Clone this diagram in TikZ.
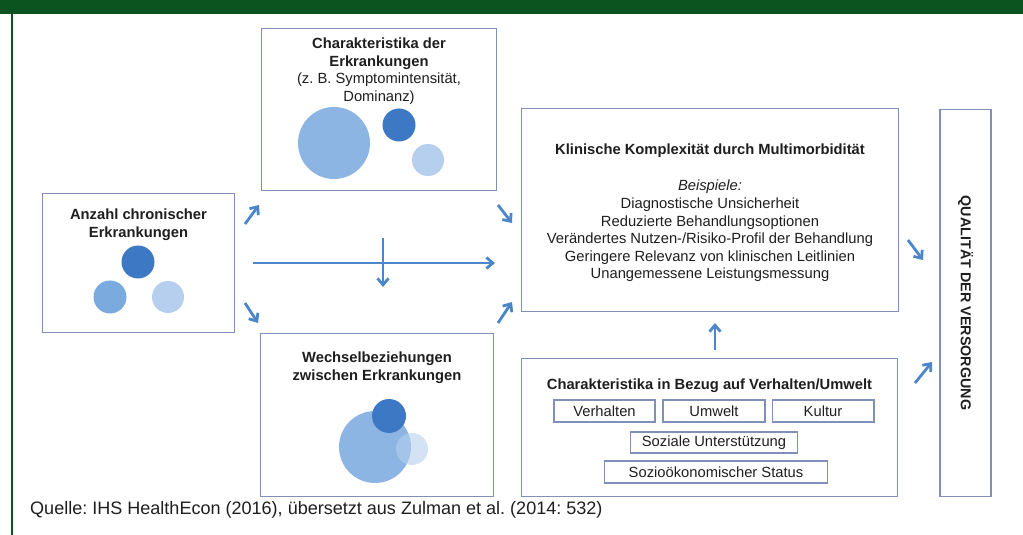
\documentclass[tikz,border=0pt]{standalone}
\usepackage{fontspec}
\setmainfont{Liberation Sans}
\usetikzlibrary{arrows.meta}
\usetikzlibrary{positioning}
\frenchspacing
\definecolor{bandgreen}{RGB}{11,84,32}
\definecolor{boxline}{RGB}{128,144,184}
\definecolor{arrowblue}{RGB}{74,134,200}
\definecolor{darkdot}{RGB}{61,120,196}
\definecolor{middot}{RGB}{122,170,222}
\definecolor{lightdot}{RGB}{182,207,238}
\definecolor{bigdot}{RGB}{140,181,228}
\definecolor{inktext}{RGB}{30,30,30}
\tikzset{box/.style = {draw = boxline, line width = 1.4, inner sep = 0},
  txt/.style = {align = center, text = inktext, font = \fontsize{14.8}{17.6}\selectfont, inner sep = 0},
  arr/.style = {draw = arrowblue, line width = 2.8, -{Straight Barb[length = 6.5, width = 11]}}}

\begin{document}
\begin{tikzpicture}[x=1bp, y=-1bp]
  \useasboundingbox (0, 0) rectangle (1023, 535);
  \fill [bandgreen] (0, 0) rectangle (1023, 14);
  \fill [bandgreen] (11, 14) rectangle (13, 535);

  \node [box, minimum width = 193, minimum height = 140] (anzahl) at (138.5, 263) {};
  \node [box, minimum width = 236, minimum height = 163] (merkmal) at (379, 109.5) {};
  \node [box, minimum width = 234, minimum height = 164] (wechsel) at (377, 415) {};
  \node [box, minimum width = 378, minimum height = 204] (klinik) at (710, 210) {};
  \node [box, minimum width = 377, minimum height = 139] (umfeld) at (709.5, 427.5) {};
  \node [box, minimum width = 51, minimum height = 388] (qualitaet) at (965.5, 303) {};

  \node [txt] (anzahltext) at (138.5, 224.5) {\bfseries Anzahl chronischer\\\bfseries Erkrankungen};
  \node [txt] (merkmaltext) at (379, 71) {\bfseries Charakteristika der\\\bfseries Erkrankungen\\(z. B. Symptomintensität,\\Dominanz)};
  \node [txt] (wechseltext) at (377, 367.5) {\bfseries Wechselbeziehungen\\\bfseries zwischen Erkrankungen};
  \node [txt, font = \fontsize{14.8}{17.6}\selectfont\bfseries] (klinikkopf) at (710, 151) {Klinische Komplexität durch Multimorbidität};
  \node [txt] (klinikliste) at (710, 231) {\itshape Beispiele:\\Diagnostische Unsicherheit\\Reduzierte Behandlungsoptionen\\Verändertes Nutzen-/Risiko-Profil der Behandlung\\Geringere Relevanz von klinischen Leitlinien\\Unangemessene Leistungsmessung};
  \node [txt, font = \fontsize{14.8}{17.6}\selectfont\bfseries] (umfeldkopf) at (709.5, 386) {Charakteristika in Bezug auf Verhalten/Umwelt};
  \node [txt, font = \fontsize{14.4}{17.6}\selectfont\bfseries, rotate = -90] (qualitaettext) at (965.5, 303) {QUALITÄT DER VERSORGUNG};

  \node [box, txt, minimum width = 101, minimum height = 22] (verhalten) at (604.5, 411) {Verhalten};
  \node [box, txt, minimum width = 102, minimum height = 22] (umwelt) at (714, 411) {Umwelt};
  \node [box, txt, minimum width = 102, minimum height = 22] (kultur) at (823, 411) {Kultur};
  \node [box, txt, minimum width = 168, minimum height = 21] (sozial) at (714, 442.5) {Soziale Unterstützung};
  \node [box, txt, minimum width = 224, minimum height = 22] (status) at (716, 472) {Sozioökonomischer Status};

  \node [anchor = west, inner sep = 0, text = inktext, font = \fontsize{18.1}{20}\selectfont] (quelle) at (30, 510) {Quelle: IHS HealthEcon (2016), übersetzt aus Zulman et al. (2014: 532)};

  \fill [darkdot] (138, 262) circle (16.5);
  \fill [middot] (110, 297) circle (16.5);
  \fill [lightdot] (168, 297) circle (16);

  \fill [bigdot] (334, 143) circle (36);
  \fill [darkdot] (399, 125) circle (16.5);
  \fill [lightdot] (428, 160) circle (16);

  \fill [bigdot] (375, 447) circle (36);
  \fill [darkdot] (389, 416) circle (17);
  \fill [lightdot, opacity = 0.6] (412, 449) circle (16);

  \coordinate (a1) at (245, 224);
  \coordinate (b1) at (259, 205);
  \coordinate (a2) at (245, 303);
  \coordinate (b2) at (258, 323);
  \coordinate (a3) at (253, 263);
  \coordinate (b3) at (495, 263);
  \coordinate (a4) at (383, 238);
  \coordinate (b4) at (383, 287);
  \coordinate (a5) at (498, 205);
  \coordinate (b5) at (512, 223);
  \coordinate (a6) at (498, 323);
  \coordinate (b6) at (512, 302);
  \coordinate (a7) at (715, 350);
  \coordinate (b7) at (715, 323);
  \coordinate (a8) at (908, 240);
  \coordinate (b8) at (923, 260);
  \coordinate (a9) at (915, 383);
  \coordinate (b9) at (932, 362);

  \draw [arr] (a1) -- (b1);
  \draw [arr] (a2) -- (b2);
  \draw [arr] (a3) -- (b3);
  \draw [arr] (a4) -- (b4);
  \draw [arr] (a5) -- (b5);
  \draw [arr] (a6) -- (b6);
  \draw [arr] (a7) -- (b7);
  \draw [arr] (a8) -- (b8);
  \draw [arr] (a9) -- (b9);
\end{tikzpicture}
\end{document}
